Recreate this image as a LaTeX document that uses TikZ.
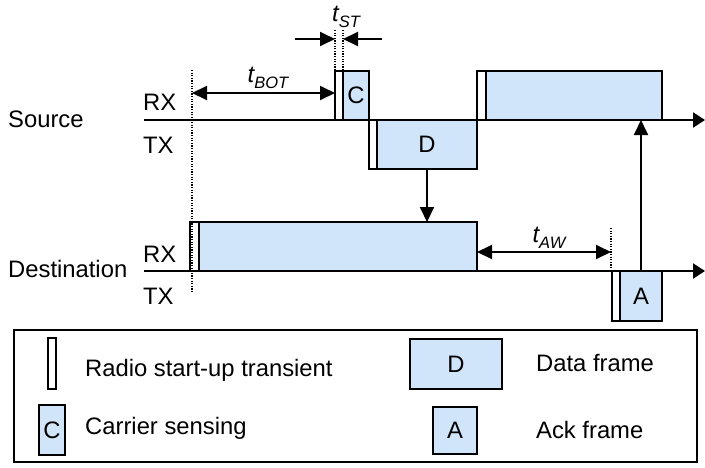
\documentclass[tikz,border=0pt]{standalone}
\usepackage{fontspec}
\setmainfont{Liberation Sans}
\usetikzlibrary{arrows.meta}
\definecolor{frameblue}{RGB}{208,228,250}
% time label: italic t with an italic subscript
\newcommand{\tlabel}[1]{{\itshape t}\raisebox{-0.45ex}{\fontsize{16.5}{16.5}\selectfont\itshape #1}}
\tikzset{
  every node/.style={font=\fontsize{23.8}{28}\selectfont},
  box/.style={draw, line width=1.7pt, inner sep=0pt, outer sep=0pt, anchor=north west},
  frame/.style={box, fill=frameblue},
  transient/.style={box, fill=white, minimum width=8pt},
  axis/.style={line width=2.2pt, -{Triangle[length=12pt,width=15pt]}},
  link/.style={line width=1.9pt, -{Triangle[length=15pt,width=14pt]}},
  span/.style={line width=1.9pt, {Triangle[length=15pt,width=14pt]}-{Triangle[length=15pt,width=14pt]}},
  guide/.style={line width=1.2pt, dash pattern=on 1.2pt off 1.4pt},
  label/.style={inner sep=0pt, anchor=west},
}
\begin{document}
\begin{tikzpicture}[x=1pt, y=-1pt]
\useasboundingbox (0,0) rectangle (705,467);

% time axes
\coordinate (sAxL) at (144,120);
\coordinate (sAxR) at (705,120);
\coordinate (dAxL) at (144,271);
\coordinate (dAxR) at (705,271);
\draw[axis] (sAxL) -- (sAxR);
\draw[axis] (dAxL) -- (dAxR);

% source activity
\node[transient, minimum height=49pt] (st1) at (335,71) {};
\node[frame, minimum width=26pt, minimum height=49pt] (sc) at (343,71) {C};
\node[transient, minimum height=49pt] (st2) at (369,120) {};
\node[frame, minimum width=100pt, minimum height=49pt] (sd) at (377,120) {D};
\node[transient, minimum width=9pt, minimum height=49pt] (st3) at (477,71) {};
\node[frame, minimum width=176pt, minimum height=49pt] (sf) at (486,71) {};

% destination activity
\node[transient, minimum width=9pt, minimum height=49pt] (dt1) at (190,222) {};
\node[frame, minimum width=278pt, minimum height=49pt] (dr) at (199,222) {};
\node[transient, minimum height=50pt] (dt2) at (612,271) {};
\node[frame, minimum width=42pt, minimum height=50pt] (da) at (620,271) {A};

% dotted guides
\coordinate (g0top) at (192,70);
\coordinate (g0bot) at (192,292);
\draw[guide] (g0top) -- (g0bot);
\coordinate (stA) at (335,30);
\coordinate (stB) at (343,30);
\draw[guide] (stA) -- (st1.north west);
\draw[guide] (stB) -- (st1.north east);
\coordinate (awtop) at (611,228);
\draw[guide] (awtop) -- (awtop |- dAxL);

% intervals
\coordinate (botL) at (192,93);
\draw[span] (botL) -- (botL -| st1.west);
\coordinate (stLa) at (295,39);
\coordinate (stRa) at (382,39);
\draw[link] (stLa) -- (stLa -| stA);
\draw[link] (stRa) -- (stRa -| stB);
\coordinate (awy) at (611,252);
\draw[span] (awy -| dr.east) -- (awy);

% frame exchange
\draw[link] (sd.south) -- (sd.south |- dr.north);
\draw[link] (da.north) -- (da.north |- sf.south);

% labels
\node[label] (lsrc) at (8,119) {Source};
\node[label] (lsrx) at (143,102) {RX};
\node[label] (lstx) at (143,145) {TX};
\node[label] (ldst) at (8,269) {Destination};
\node[label] (ldrx) at (143,254) {RX};
\node[label] (ldtx) at (143,296) {TX};
\node[inner sep=0pt] (ltbot) at (268,78) {\tlabel{BOT}};
\node[inner sep=0pt] (ltst) at (346,17) {\tlabel{ST}};
\node[inner sep=0pt] (ltaw) at (549,238) {\tlabel{AW}};

% legend
\draw[line width=1.6pt] (14,330) rectangle (697,462);
\node[transient, minimum height=51pt] (kt) at (48,338) {};
\node[label] (ktl) at (85,370) {Radio start-up transient};
\node[frame, minimum width=26pt, minimum height=50pt] (kc) at (39,405) {C};
\node[label] (kcl) at (85,428) {Carrier sensing};
\node[frame, minimum width=92pt, minimum height=50pt] (kd) at (410,339) {D};
\node[label] (kdl) at (536,363) {Data frame};
\node[frame, minimum width=44pt, minimum height=47pt] (ka) at (433,407) {A};
\node[label] (kal) at (536,430) {Ack frame};
\end{tikzpicture}
\end{document}
